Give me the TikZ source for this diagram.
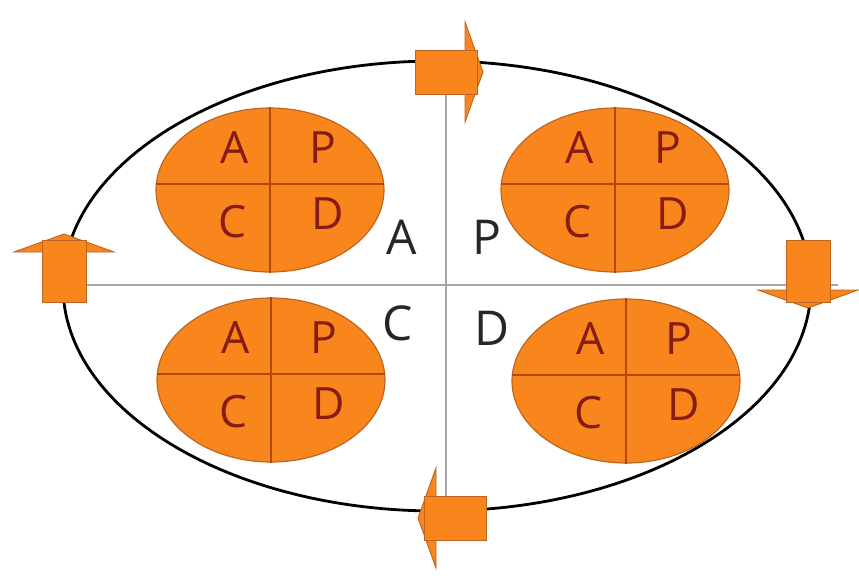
\documentclass[tikz,border=0pt]{standalone}
\usepackage{fontspec}
\setmainfont{Open Sans}
\usetikzlibrary{shapes.geometric, calc}
\definecolor{pdcaorange}{RGB}{248,134,28}
\definecolor{pdcaedge}{RGB}{190,100,30}
\definecolor{pdcaline}{RGB}{178,72,12}
\definecolor{pdcaletter}{RGB}{135,28,22}
\tikzset{
  cyclearrow/.pic={
    \filldraw[pdcaedge, fill=pdcaorange, line width=0.8pt] (19,-50) -- (37,0) -- (19,50) -- cycle;
    \filldraw[pdcaedge, fill=pdcaorange, line width=0.8pt] (-31,-22) rectangle (31,22);
  }
}
\begin{document}
\begin{tikzpicture}[
        x=0.03cm, y=-0.03cm,
        loopring/.style={draw=black, line width=2.4pt, ellipse, minimum width=22.44cm, minimum height=13.5cm, inner sep=0pt},
        quad/.style={ellipse, draw=pdcaedge, fill=pdcaorange, line width=1pt, minimum width=6.84cm, minimum height=4.92cm, inner sep=0pt},
        divider/.style={pdcaline, line width=1pt},
        axis/.style={gray!70, line width=1.2pt},
        letter/.style={text=pdcaletter, inner sep=0pt, font=\fontsize{38}{38}\selectfont},
        bigletter/.style={text=black!85, inner sep=0pt, font=\fontsize{41}{41}\selectfont}
    ]
        \useasboundingbox (0,0) rectangle (859,578);

        \node[loopring] (ring) at (437,286) {};

        \coordinate (topflow) at (446,72);
        \coordinate (rightflow) at (808,271);
        \coordinate (bottomflow) at (455,518);
        \coordinate (leftflow) at (64,271);
        \coordinate (axisL) at (64,285);
        \coordinate (axisR) at (838,285);

        \draw[axis] (axisL) -- (axisR);
        \draw[axis] (topflow) -- (topflow |- bottomflow);

        \foreach \q/\cx/\cy in {nw/270/190, ne/615/190, sw/271/380, se/626/381}{
            \node[quad] (\q) at (\cx,\cy) {};
            \draw[divider] (\q.177) -- (\q.3);
            \draw[divider] (\q.north) -- (\q.south);
            \node[letter] (\q-A) at ($(\q)+(-35,-42)$) {A};
            \node[letter] (\q-P) at ($(\q)+(53,-42)$) {P};
            \node[letter] (\q-C) at ($(\q)+(-37,32)$) {C};
            \node[letter] (\q-D) at ($(\q)+(58,24)$) {D};
        }

        \pic at (topflow) {cyclearrow};
        \pic[rotate=-90] at (rightflow) {cyclearrow};
        \pic[rotate=180] at (bottomflow) {cyclearrow};
        \pic[rotate=90] at (leftflow) {cyclearrow};

        \node[bigletter] (bigA) at (402,237) {A};
        \node[bigletter] (bigP) at (487,237) {P};
        \node[bigletter] (bigC) at (398,323) {C};
        \node[bigletter] (bigD) at (492,328) {D};
    \end{tikzpicture}
\end{document}
